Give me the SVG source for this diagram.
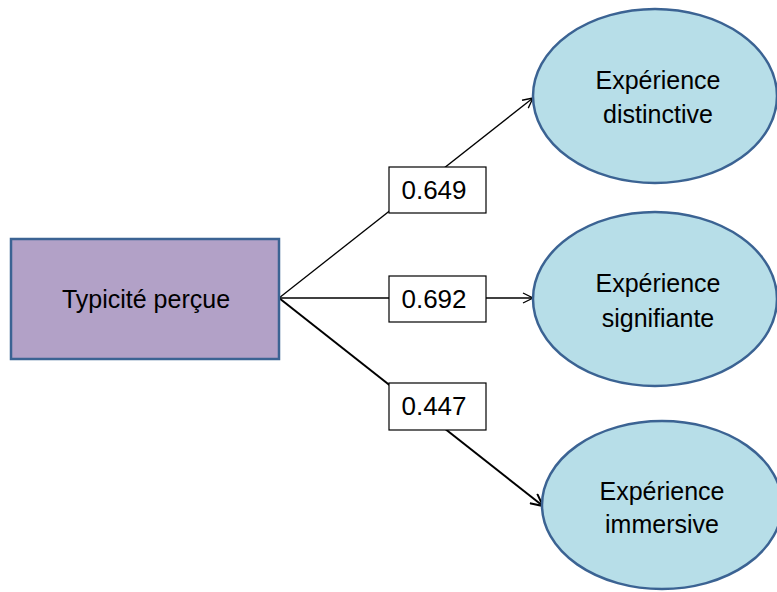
<svg xmlns="http://www.w3.org/2000/svg" width="777" height="592" viewBox="0 0 777 592">
<defs>
<style>
.t{font-family:"Liberation Sans",Arial,sans-serif;font-size:25px;fill:#000;text-anchor:middle}
.n{font-family:"Liberation Sans",Arial,sans-serif;font-size:26px;fill:#000;text-anchor:middle}
.e{fill:#B7DEE8;stroke:#3B6393;stroke-width:2.5}
.lbl{fill:#fff;stroke:#000;stroke-width:1.2}
.c{stroke:#000;fill:none}
</style>
<marker id="ah" viewBox="0 0 12 12" refX="11" refY="6" markerWidth="12" markerHeight="12" markerUnits="userSpaceOnUse" orient="auto">
<path d="M1,1 L11,6 L1,11" fill="none" stroke="#000" stroke-width="1.3"/>
</marker>
<marker id="ah2" viewBox="0 0 14 14" refX="13" refY="7" markerWidth="14" markerHeight="14" markerUnits="userSpaceOnUse" orient="auto">
<path d="M1,1 L13,7 L1,13" fill="none" stroke="#000" stroke-width="2"/>
</marker>
</defs>
<rect width="777" height="592" fill="#fff"/>
<g id="connectors">
<line class="c" x1="279" y1="298" x2="533" y2="98" stroke-width="1.3" marker-end="url(#ah)"/>
<line class="c" x1="279" y1="298" x2="533" y2="298" stroke-width="1.3" marker-end="url(#ah)"/>
<line class="c" x1="279" y1="298" x2="543" y2="506" stroke-width="2" marker-end="url(#ah2)"/>
</g>
<g id="typicite">
<rect x="11" y="239" width="268" height="120" fill="#B2A1C7" stroke="#3B6393" stroke-width="2.5"/>
<text class="t" x="146" y="308">Typicité perçue</text>
</g>
<g id="distinctive">
<ellipse class="e" cx="655" cy="96" rx="122" ry="87"/>
<text class="t" x="658" y="89">Expérience</text>
<text class="t" x="658" y="123">distinctive</text>
</g>
<g id="signifiante">
<ellipse class="e" cx="655" cy="299" rx="122" ry="87"/>
<text class="t" x="658" y="292">Expérience</text>
<text class="t" x="658" y="327">signifiante</text>
</g>
<g id="immersive">
<ellipse class="e" cx="662" cy="505" rx="120" ry="84"/>
<text class="t" x="662" y="500">Expérience</text>
<text class="t" x="662" y="533">immersive</text>
</g>
<g id="label-0649">
<rect class="lbl" x="389" y="167" width="97" height="46"/>
<text class="n" x="434" y="199">0.649</text>
</g>
<g id="label-0692">
<rect class="lbl" x="389" y="276" width="97" height="46"/>
<text class="n" x="434" y="308">0.692</text>
</g>
<g id="label-0447">
<rect class="lbl" x="389" y="383" width="97" height="47"/>
<text class="n" x="434" y="415">0.447</text>
</g>
</svg>
